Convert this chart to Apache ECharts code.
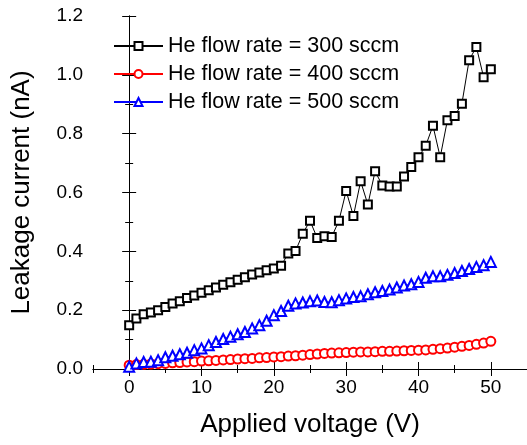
<!DOCTYPE html>
<html>
<head>
<meta charset="utf-8">
<script src="https://cdn.jsdelivr.net/npm/echarts@6/dist/echarts.min.js"></script>
<style>
  html, body { margin: 0; padding: 0; background: #fff; }
  #chart { width: 527px; height: 445px; }
</style>
</head>
<body>
<div id="chart"></div>
<script>
const voltages = Array.from({ length: 51 }, (_, i) => i);
const xTickLabels = [0, 10, 20, 30, 40, 50];

const flow300 = [
  0.149, 0.172, 0.186, 0.192, 0.200, 0.211, 0.223, 0.230, 0.241, 0.250,
  0.259, 0.268, 0.277, 0.286, 0.295, 0.303, 0.312, 0.321, 0.328, 0.336,
  0.342, 0.351, 0.393, 0.401, 0.460, 0.504, 0.445, 0.451, 0.449, 0.504,
  0.605, 0.520, 0.638, 0.559, 0.672, 0.624, 0.620, 0.620, 0.654, 0.687,
  0.720, 0.759, 0.827, 0.720, 0.846, 0.860, 0.902, 1.050, 1.095, 0.992,
  1.019
];
const flow400 = [
  0.013, 0.015, 0.016, 0.017, 0.018, 0.019, 0.021, 0.022, 0.024, 0.025,
  0.027, 0.028, 0.029, 0.031, 0.032, 0.034, 0.035, 0.036, 0.038, 0.039,
  0.041, 0.042, 0.044, 0.045, 0.047, 0.049, 0.051, 0.053, 0.054, 0.055,
  0.056, 0.057, 0.058, 0.058, 0.059, 0.060, 0.060, 0.061, 0.062, 0.063,
  0.064, 0.065, 0.067, 0.069, 0.071, 0.074, 0.077, 0.080, 0.084, 0.088,
  0.094
];
const flow500 = [
  0.008, 0.019, 0.024, 0.025, 0.030, 0.040, 0.045, 0.050, 0.055, 0.064,
  0.070, 0.081, 0.092, 0.102, 0.110, 0.118, 0.126, 0.138, 0.149, 0.164,
  0.183, 0.197, 0.215, 0.223, 0.226, 0.230, 0.233, 0.228, 0.227, 0.234,
  0.240, 0.245, 0.247, 0.254, 0.261, 0.265, 0.270, 0.277, 0.284, 0.288,
  0.296, 0.310, 0.315, 0.315, 0.320, 0.326, 0.333, 0.340, 0.347, 0.353,
  0.364
];

const seriesNames = ['He flow rate = 300 sccm', 'He flow rate = 400 sccm', 'He flow rate = 500 sccm'];
const font = 'Liberation Sans, Arial, sans-serif';

const chart = echarts.init(document.getElementById('chart'));

const pair = arr => arr.map((v, i) => [voltages[i], v]);

// scale ticks land on -5, 5, 15 ... (short), minor ticks on 0, 10, 20 ... (long)
const xCommon = {
  type: 'value', min: -5, max: 55, interval: 10,
  axisLine: { lineStyle: { color: '#000', width: 1 } },
  axisTick: { inside: true, length: 4, lineStyle: { color: '#000' } },
  minorTick: { show: true, splitNumber: 2, length: 7, lineStyle: { color: '#000' } },
  splitLine: { show: false }
};
const yCommon = {
  type: 'value', min: 0, max: 1.2, interval: 0.2,
  axisLine: { show: true, lineStyle: { color: '#000', width: 1 } },
  axisTick: { inside: true, length: 7, lineStyle: { color: '#000' } },
  minorTick: { show: true, splitNumber: 2, length: 4, lineStyle: { color: '#000' } },
  splitLine: { show: false }
};

chart.setOption({
  animation: false,
  backgroundColor: '#fff',
  grid: { left: 93, top: 16, width: 437, height: 353, containLabel: false },
  legend: {
    orient: 'vertical', left: 113, top: 35, padding: 0,
    itemWidth: 49, itemHeight: 10, itemGap: 6,
    textStyle: { fontFamily: font, fontSize: 21.5, color: '#000' },
    data: seriesNames
  },
  xAxis: [
    Object.assign({}, xCommon, {
      position: 'bottom',
      axisLabel: {
        color: '#000', fontFamily: font, fontSize: 19, margin: 9,
        customValues: xTickLabels
      },
      name: 'Applied voltage (V)', nameLocation: 'middle', nameGap: 43,
      nameTextStyle: { fontFamily: font, fontSize: 26, color: '#000' }
    }),
    Object.assign({}, xCommon, { position: 'top', axisLabel: { show: false } })
  ],
  yAxis: [
    Object.assign({}, yCommon, {
      position: 'left',
      axisLabel: {
        color: '#000', fontFamily: font, fontSize: 19, margin: 10,
        formatter: v => v.toFixed(1)
      },
      name: 'Leakage current (nA)', nameLocation: 'middle', nameGap: 58,
      nameTextStyle: { fontFamily: font, fontSize: 26, color: '#000' }
    }),
    Object.assign({}, yCommon, { position: 'right', axisLabel: { show: false } })
  ],
  series: [
    {
      name: seriesNames[1], type: 'line', data: pair(flow400),
      symbol: 'emptyCircle', symbolSize: 9,
      lineStyle: { color: '#ff0000', width: 1 },
      itemStyle: { color: '#ff0000', borderWidth: 1 }
    },
    {
      name: seriesNames[2], type: 'line', data: pair(flow500),
      symbol: 'emptyTriangle', symbolSize: 10,
      lineStyle: { color: '#0000ff', width: 1 },
      itemStyle: { color: '#0000ff', borderWidth: 1 }
    },
    {
      name: seriesNames[0], type: 'line', data: pair(flow300),
      symbol: 'emptyRect', symbolSize: 8,
      lineStyle: { color: '#000', width: 1 },
      itemStyle: { color: '#000', borderWidth: 1 }
    }
  ]
});
</script>
</body>
</html>
